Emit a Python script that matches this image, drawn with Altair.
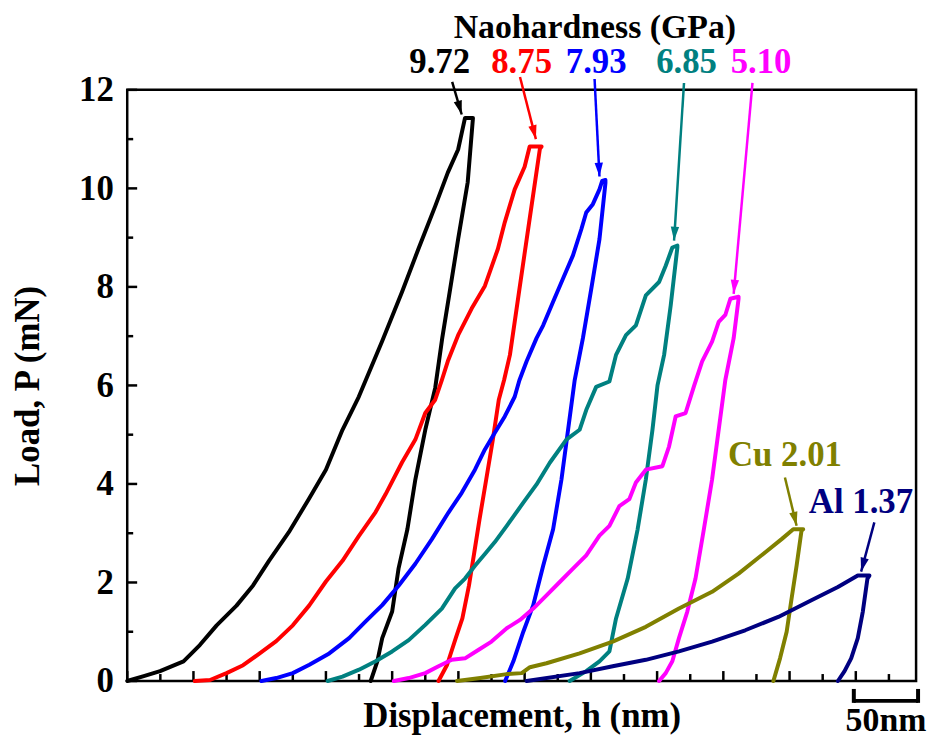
import math
import altair as alt
import pandas as pd

# ---------------- data (h in nm, P in mN) ----------------
black_972 = [(0, 0), (12.5, 0.10), (24.8, 0.20), (42.5, 0.40), (54.8, 0.73), (67.5, 1.13), (82.5, 1.53),
             (95, 1.94), (107, 2.44), (122, 3.02), (137, 3.69), (150, 4.29), (162.5, 5.10), (174.8, 5.77),
             (192.5, 6.90), (207.5, 7.90), (219.8, 8.77), (232.5, 9.64), (242, 10.32), (249.8, 10.79),
             (255, 11.43), (261, 11.43), (257, 10.12), (249.8, 8.97), (243.8, 7.96), (237.8, 6.96),
             (232.5, 5.95), (225, 5.10), (217.5, 4.09), (211.5, 3.08), (204.8, 2.28), (200, 1.41),
             (192.5, 0.87), (188.8, 0.40), (183.8, 0)]
red_875 = [(51, 0), (62.5, 0.02), (75, 0.16), (87.5, 0.32), (100, 0.56), (112.5, 0.81), (125, 1.13),
           (137.3, 1.53), (150, 2.02), (162.5, 2.44), (174.8, 2.94), (187.5, 3.43), (195, 3.79),
           (207.5, 4.44), (217.5, 4.90), (225, 5.44), (232.5, 5.71), (237.5, 6.11), (242, 6.49),
           (249.8, 7.02), (260, 7.56), (270, 8.02), (279.8, 8.77), (285, 9.31), (292.5, 9.98),
           (300, 10.44), (303.8, 10.85), (312.8, 10.85), (311.5, 10.80), (303.4, 9.31), (296.1, 7.96),
           (288.9, 6.62), (284.5, 6.11), (280.5, 5.71), (276, 4.90), (271, 4.09), (266, 3.29),
           (262, 2.61), (258, 1.94), (253, 1.27), (248, 0.87), (241.5, 0.33), (235, 0)]
blue_793 = [(101.3, 0), (112.5, 0.06), (125, 0.16), (137.5, 0.33), (152.5, 0.56), (167.5, 0.87),
            (180, 1.21), (192.5, 1.54), (205, 1.94), (217.5, 2.38), (230, 2.88), (242.5, 3.42),
            (252.5, 3.82), (262.5, 4.29), (270, 4.70), (277.5, 5.04), (285, 5.37), (292.5, 5.77),
            (296, 6.10), (301.5, 6.49), (309, 6.96), (314, 7.22), (321.5, 7.70), (329, 8.17),
            (336.5, 8.64), (342.8, 9.17), (346.5, 9.51), (351.5, 9.68), (356.5, 9.98), (358.5, 10.15),
            (361, 10.17), (361, 10.11), (356.5, 8.97), (350.3, 7.96), (344, 6.96), (337.8, 6.11),
            (332.8, 5.10), (327.8, 4.09), (321.5, 3.08), (314, 2.34), (306.5, 1.54), (299, 1.00),
            (291.5, 0.40), (285.3, 0)]
teal_685 = [(151.3, 0), (162.5, 0.09), (175, 0.23), (187.5, 0.40), (200, 0.60), (212.5, 0.83),
            (225, 1.14), (237.5, 1.47), (247.5, 1.88), (255, 2.08), (262.5, 2.34), (270, 2.58),
            (277.5, 2.82), (286.5, 3.15), (299, 3.62), (309, 3.99), (319, 4.43), (331.5, 4.90),
            (341.5, 5.10), (346.5, 5.50), (354, 5.97), (364, 6.08), (369, 6.62), (376.5, 7.02),
            (384, 7.22), (391.5, 7.83), (401.5, 8.10), (406.5, 8.43), (411.5, 8.80), (415.3, 8.84),
            (415.3, 8.80), (410.3, 7.63), (405.3, 6.62), (400.3, 6.00), (396.5, 5.10), (391.5, 4.09),
            (385.3, 3.08), (377.8, 2.08), (369, 1.27), (364, 0.60), (356.5, 0.40), (346.5, 0.20),
            (334, 0)]
magenta_510 = [(201.3, 0), (212.5, 0.06), (225, 0.16), (235, 0.30), (245, 0.43), (255, 0.46),
               (265, 0.63), (275, 0.80), (286.5, 1.07), (296.5, 1.24), (306.5, 1.47), (316.5, 1.74),
               (326.5, 2.01), (336.5, 2.28), (346.5, 2.55), (356.5, 2.95), (364, 3.15), (371.5, 3.55),
               (379, 3.69), (384, 4.03), (391.5, 4.29), (404, 4.36), (409, 4.76), (414, 5.37),
               (421.5, 5.44), (427.8, 5.98), (434, 6.49), (441.5, 6.89), (446.5, 7.29), (451.5, 7.43),
               (455.3, 7.76), (461.5, 7.80), (461.5, 7.76), (457.8, 6.96), (451.5, 6.11), (446.5, 5.10),
               (441.5, 4.09), (435.3, 3.08), (429, 2.08), (422.8, 1.41), (416.5, 0.87), (411.5, 0.40),
               (406.5, 0.16), (401.5, 0)]
cu_201 = [(249, 0), (266.5, 0.06), (286.5, 0.14), (297.8, 0.16), (304, 0.28), (316.5, 0.36),
          (341.5, 0.56), (366.5, 0.80), (391.5, 1.10), (416.5, 1.47), (441.5, 1.81), (461.5, 2.18),
          (481.5, 2.61), (494, 2.88), (502.8, 3.08), (510.3, 3.08), (509, 3.05), (505.3, 2.34),
          (501.5, 1.67), (497.8, 1.00), (492.8, 0.46), (487.8, 0)]
al_137 = [(301.5, 0), (341.5, 0.16), (366.5, 0.30), (391.5, 0.43), (416.5, 0.60), (441.5, 0.80),
          (466.5, 1.03), (491.5, 1.30), (516.5, 1.64), (536.5, 1.91), (551.5, 2.14), (560.3, 2.14),
          (558.8, 2.08), (555.3, 1.41), (551.5, 0.87), (546.5, 0.46), (541.5, 0.20), (536.5, 0)]

curve_names = ["9.72", "8.75", "7.93", "6.85", "5.10", "Cu 2.01", "Al 1.37"]
curve_colors = ["#000000", "#ff0000", "#0000ff", "#008080", "#ff00ff", "#808000", "#000080"]
curve_points = [black_972, red_875, blue_793, teal_685, magenta_510, cu_201, al_137]

# annotation labels
label_text = ["9.72", "8.75", "7.93", "6.85", "5.10", "Cu 2.01", "Al 1.37"]
label_h = [235.9, 297.75, 354, 422.25, 478.5, 496.5, 553.9]
label_p = [12.56, 12.56, 12.56, 12.56, 12.56, 4.58, 3.64]

# arrows (tail -> tip)
arrow_tail_h = [245.3, 296.5, 352.8, 420.3, 472, 496.5, 564]
arrow_tail_p = [12.16, 12.26, 12.22, 12.14, 12.14, 4.13, 3.22]
arrow_tip_h = [252.5, 308.5, 356.5, 412.8, 457.8, 505.3, 554]
arrow_tip_p = [11.50, 11.00, 10.24, 8.94, 7.86, 3.15, 2.22]

title_text = "Naohardness (GPa)"
title_pos = (353, 13.25)

scale_bar_h = [548.5, 597]
scale_bar_label = "50nm"

x_ticks = [i * 25 for i in range(24)]
y_ticks = list(range(13))

X_DOMAIN = [0, 595.5]
Y_DOMAIN = [0, 12]
W, H = 794, 595
FONT = "Liberation Serif"

# ---------------- tables ----------------
rows = []
for name, col, pts in zip(curve_names, curve_colors, curve_points):
    for i, (h, p) in enumerate(pts):
        rows.append({"curve": name, "c": col, "i": i, "h": h, "p": p})
df = pd.DataFrame(rows)

arr = pd.DataFrame({
    "h": arrow_tail_h, "p": arrow_tail_p, "h2": arrow_tip_h, "p2": arrow_tip_p, "c": curve_colors,
})
arr["ang"] = [
    (math.degrees(math.atan2((b - a) * W / (X_DOMAIN[1] - X_DOMAIN[0]),
                             (d - c) * H / (Y_DOMAIN[1] - Y_DOMAIN[0])))) % 360
    for a, b, c, d in zip(arr["h"], arr["h2"], arr["p"], arr["p2"])
]

lab = pd.DataFrame({"t": label_text, "h": label_h, "p": label_p, "c": curve_colors})

xs = alt.Scale(domain=X_DOMAIN, nice=False, zero=False)
ys = alt.Scale(domain=Y_DOMAIN, nice=False, zero=False)

lines = alt.Chart(df).mark_line(strokeWidth=4, strokeJoin="round", strokeCap="round").encode(
    x=alt.X("h:Q", scale=xs, axis=alt.Axis(title="Displacement, h (nm)", labels=False, ticks=False,
                                           domain=False, grid=False, titlePadding=18)),
    y=alt.Y("p:Q", scale=ys, axis=alt.Axis(title="Load, P (mN)", values=[0, 2, 4, 6, 8, 10, 12],
                                           ticks=False, domain=False, grid=False, labelPadding=14,
                                           titlePadding=33)),
    color=alt.Color("c:N", scale=None),
    detail="curve:N",
    order="i:Q",
)

# inward ticks
xt = pd.DataFrame({"v": x_ticks, "major": [v % 50 == 0 for v in x_ticks]})
yt = pd.DataFrame({"v": y_ticks, "major": [v % 2 == 0 for v in y_ticks]})
xmaj = alt.Chart(xt[xt.major]).mark_rule(strokeWidth=2.5, color="black").encode(
    x=alt.X("v:Q", scale=xs), y=alt.value(H), y2=alt.value(H - 10))
xmin = alt.Chart(xt[~xt.major]).mark_rule(strokeWidth=2.5, color="black").encode(
    x=alt.X("v:Q", scale=xs), y=alt.value(H), y2=alt.value(H - 7))
ymaj = alt.Chart(yt[yt.major]).mark_rule(strokeWidth=2.5, color="black").encode(
    y=alt.Y("v:Q", scale=ys), x=alt.value(0), x2=alt.value(10))
ymin = alt.Chart(yt[~yt.major]).mark_rule(strokeWidth=2.5, color="black").encode(
    y=alt.Y("v:Q", scale=ys), x=alt.value(0), x2=alt.value(6))

shafts = alt.Chart(arr).mark_rule(strokeWidth=2.5).encode(
    x=alt.X("h:Q", scale=xs), y=alt.Y("p:Q", scale=ys), x2="h2:Q", y2="p2:Q",
    color=alt.Color("c:N", scale=None))
heads = alt.Chart(arr).mark_point(shape="M0,0L-0.6,2L0.6,2Z", filled=True, size=196, opacity=1).encode(
    x=alt.X("h2:Q", scale=xs), y=alt.Y("p2:Q", scale=ys),
    angle=alt.Angle("ang:Q", scale=None),
    color=alt.Color("c:N", scale=None))

labels = alt.Chart(lab).mark_text(font=FONT, fontWeight="bold", fontSize=35, baseline="middle",
                                  align="center").encode(
    x=alt.X("h:Q", scale=xs), y=alt.Y("p:Q", scale=ys), text="t:N",
    color=alt.Color("c:N", scale=None))

title = alt.Chart(pd.DataFrame({"t": [title_text], "h": [title_pos[0]], "p": [title_pos[1]]})).mark_text(
    font=FONT, fontWeight="bold", fontSize=34, baseline="middle", align="center", color="black").encode(
    x=alt.X("h:Q", scale=xs), y=alt.Y("p:Q", scale=ys), text="t:N")

# scale bar
sb = pd.DataFrame({"h": [scale_bar_h[0]], "h2": [scale_bar_h[1]]})
sb_h = alt.Chart(sb).mark_rule(strokeWidth=4, color="black").encode(
    x=alt.X("h:Q", scale=xs), x2="h2:Q", y=alt.value(H + 20))
sb_v = alt.Chart(pd.DataFrame({"h": scale_bar_h})).mark_rule(strokeWidth=4, color="black").encode(
    x=alt.X("h:Q", scale=xs), y=alt.value(H + 8), y2=alt.value(H + 22))
sb_t = alt.Chart(pd.DataFrame({"t": [scale_bar_label], "h": [sum(scale_bar_h) / 2]})).mark_text(
    font=FONT, fontWeight="bold", fontSize=34, baseline="alphabetic", align="center", color="black").encode(
    x=alt.X("h:Q", scale=xs), y=alt.value(H + 50), text="t:N")

chart = alt.layer(
    xmaj, xmin, ymaj, ymin, lines, shafts, heads, labels, title, sb_h, sb_v, sb_t
).properties(
    width=W, height=H,
    autosize=alt.AutoSizeParams(type="none"),
    padding={"left": 120, "top": 80, "right": 12, "bottom": 58},
).configure_view(
    stroke="black", strokeWidth=2.5
).configure_axis(
    labelFont=FONT, labelFontWeight="bold", labelFontSize=35, labelColor="black",
    titleFont=FONT, titleFontWeight="bold", titleFontSize=35, titleColor="black",
)

chart.save("out.html", embed_options={"renderer": "svg", "actions": False})
